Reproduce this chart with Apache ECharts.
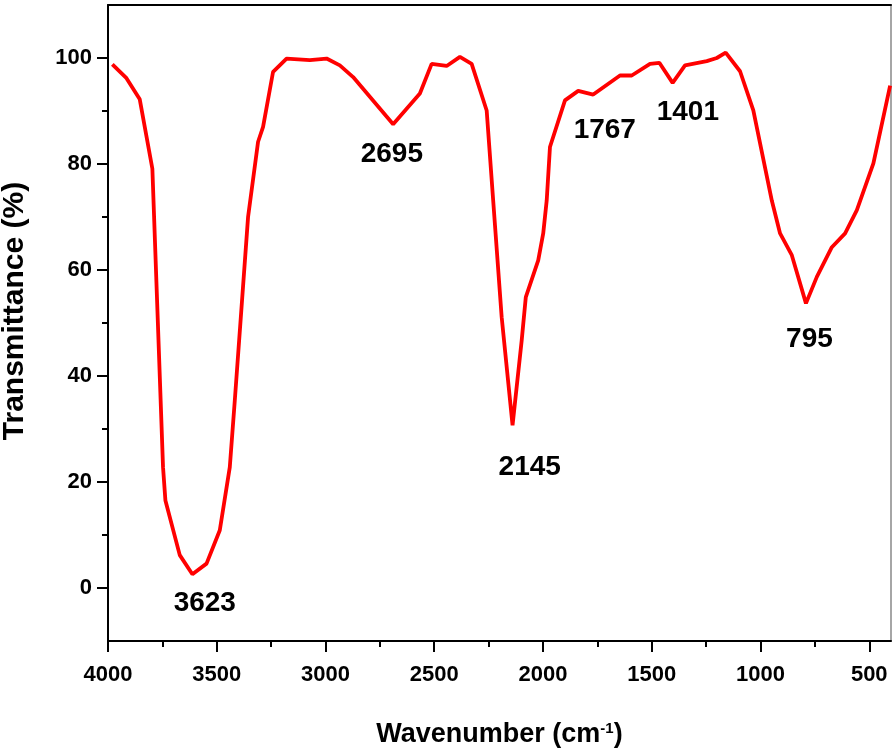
<!DOCTYPE html>
<html>
<head>
<meta charset="utf-8">
<script src="https://cdn.jsdelivr.net/npm/echarts@6/dist/echarts.min.js"></script>
<style>
  html, body { margin: 0; padding: 0; background: #fff; }
  #chart { width: 896px; height: 749px; }
</style>
</head>
<body>
<div id="chart"></div>
<script>
// FTIR spectrum
const wavenumber = [3980, 3915, 3854, 3796, 3747, 3736, 3670, 3612, 3547, 3486, 3440, 3417, 3356, 3310, 3287, 3241, 3179,
  3072, 2995, 2934, 2873, 2689, 2566, 2512, 2443, 2382, 2328, 2259, 2229, 2190, 2140, 2098, 2079, 2022, 1999, 1983,
  1968, 1899, 1838, 1769, 1646, 1592, 1508, 1465, 1404, 1347, 1247, 1201, 1160, 1094, 1033, 948, 910, 856, 791,
  741, 672, 611, 557, 481, 404]
const transmittance = [98.8, 96.2, 92.2, 79.1, 22.8, 16.5, 6.2, 2.6, 4.6, 10.9, 22.8, 35.4, 70, 84.2, 87, 97.4, 99.9,
  99.6, 99.9, 98.6, 96.4, 87.5, 93.3, 98.9, 98.5, 100.2, 98.9, 90.1, 73.1, 51.1, 30.7, 46.7, 54.9, 61.8, 66.9, 73.1,
  83.2, 92, 93.8, 93.1, 96.7, 96.7, 98.9, 99.1, 95.3, 98.6, 99.4, 100, 101, 97.5, 90.1, 73.1, 66.9, 62.8, 53.7,
  58.7, 64.3, 66.9, 71.3, 80.1, 94.8]

// peak labels: text and where it sits (data coords)
const peakNames = ['3623', '2695', '2145', '1767', '1401', '795']
const peakX = [3555, 2695, 2061, 1716, 1334, 775]
const peakY = [-2.8, 81.8, 22.8, 86.4, 89.8, 47.0]

const xLabels = [4000, 3500, 3000, 2500, 2000, 1500, 1000, 500]
const xMinor = [3750, 3250, 2750, 2250, 1750, 1250, 750]
const yLabels = [0, 20, 40, 60, 80, 100]
const yMinor = [10, 30, 50, 70, 90]

const chart = echarts.init(document.getElementById('chart'))
const font = 'Liberation Sans, Arial, sans-serif'

const xBase = {
  type: 'value', min: 400, max: 4000, inverse: true,
  splitLine: { show: false }
}
const yBase = {
  type: 'value', min: -10, max: 110,
  splitLine: { show: false }
}

chart.setOption({
  animation: false,
  grid: { left: 108, right: 5, top: 5, bottom: 108, outerBoundsMode: 'none' },
  xAxis: [
    Object.assign({}, xBase, {
      position: 'bottom',
      name: 'Wavenumber (cm{sup|-1})',
      nameLocation: 'middle', nameGap: 80,
      nameTextStyle: {
        fontFamily: font, fontWeight: 'bold', fontSize: 27, color: '#000',
        rich: { sup: { fontFamily: font, fontWeight: 'bold', fontSize: 15, color: '#000', verticalAlign: 'top', padding: [0, 0, 12, 0] } }
      },
      axisLine: { onZero: false, lineStyle: { color: '#000', width: 2 } },
      axisTick: { customValues: xLabels, length: 11, lineStyle: { color: '#000', width: 2 } },
      axisLabel: { customValues: xLabels, margin: 23, formatter: v => String(v), fontFamily: font, fontWeight: 'bold', fontSize: 22, color: '#000' }
    }),
    Object.assign({}, xBase, {
      position: 'bottom',
      axisLine: { show: false, onZero: false },
      axisTick: { customValues: xMinor, length: 6, lineStyle: { color: '#000', width: 2 } },
      axisLabel: { show: false }
    }),
    Object.assign({}, xBase, {
      position: 'top',
      axisLine: { onZero: false, lineStyle: { color: '#000', width: 2 } },
      axisTick: { show: false },
      axisLabel: { show: false }
    })
  ],
  yAxis: [
    Object.assign({}, yBase, {
      position: 'left',
      name: 'Transmittance (%)',
      nameLocation: 'middle', nameGap: 78, nameRotate: 90,
      nameTextStyle: { fontFamily: font, fontWeight: 'bold', fontSize: 30, color: '#000', padding: [0, 0, 0, 24] },
      axisLine: { onZero: false, lineStyle: { color: '#000', width: 2 } },
      axisTick: { customValues: yLabels, length: 11, lineStyle: { color: '#000', width: 2 } },
      axisLabel: { customValues: yLabels, margin: 16, fontFamily: font, fontWeight: 'bold', fontSize: 22, color: '#000' }
    }),
    Object.assign({}, yBase, {
      position: 'left',
      axisLine: { show: false, onZero: false },
      axisTick: { customValues: yMinor, length: 6, lineStyle: { color: '#000', width: 2 } },
      axisLabel: { show: false }
    }),
    Object.assign({}, yBase, {
      position: 'right',
      axisLine: { onZero: false, lineStyle: { color: '#888', width: 1.5 } },
      axisTick: { show: false },
      axisLabel: { show: false }
    })
  ],
  series: [
    {
      type: 'line',
      data: wavenumber.map((w, i) => [w, transmittance[i]]),
      showSymbol: false,
      lineStyle: { color: '#ff0000', width: 3.8 },
      itemStyle: { color: '#ff0000' },
      z: 3
    },
    {
      type: 'scatter',
      data: peakNames.map((n, i) => [peakX[i], peakY[i], n]),
      symbolSize: 0,
      itemStyle: { opacity: 1 },
      label: {
        show: true, position: 'inside', opacity: 1,
        formatter: p => p.data[2],
        fontFamily: font, fontWeight: 'bold', fontSize: 28, color: '#000'
      },
      z: 4
    }
  ]
})
</script>
</body>
</html>
